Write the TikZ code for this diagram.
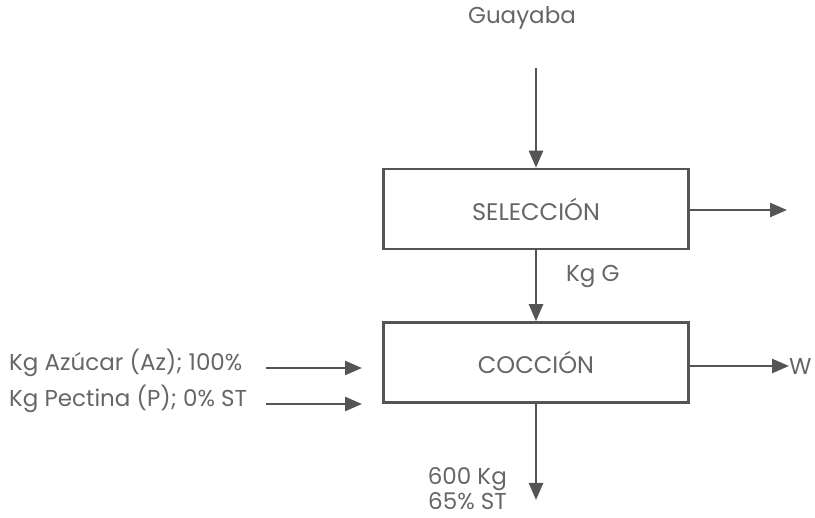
\documentclass[tikz,border=0pt]{standalone}
\usepackage{fontspec}
\setmainfont{Poppins}
\usetikzlibrary{arrows.meta}
\definecolor{ln}{HTML}{555555}
\definecolor{tx}{HTML}{666666}
\begin{document}
\begin{tikzpicture}[x=1pt,y=-1pt,
  box/.style={draw=ln,line width=2.5pt,minimum width=305pt,minimum height=80pt,inner sep=0pt,text=tx,font=\fontsize{24}{28}\selectfont},
  lbl/.style={text=tx,font=\fontsize{23}{25}\selectfont,inner sep=0pt},
  flow/.style={draw=ln,line width=2.5pt,-{Triangle[length=17pt,width=14pt]}}]
\useasboundingbox (0,0) rectangle (815,518);
\node[box] (sel) at (536,209) {SELECCIÓN};
\node[box] (coc) at (536,362.5) {COCCIÓN};
\node[lbl] (guay) at (522,18) {Guayaba};
\coordinate (gtop) at (536,68);
\draw[flow] (gtop) -- (sel.north);
\coordinate (selout) at (787,210);
\draw[flow] (sel.east |- selout) -- (selout);
\draw[flow] (sel.south) -- (coc.north);
\node[lbl,anchor=west] (kgg) at (566,277) {Kg G};
\node[lbl,anchor=west] (w) at (789,366) {W};
\draw[flow] (coc.east |- w) -- (w.west);
\coordinate (cbot) at (536,500);
\draw[flow] (coc.south) -- (cbot);
\node[lbl,anchor=base east] (prod) at (507,485) {600 Kg};
\node[lbl,anchor=base east] (prodst) at (507,510) {65\% ST};
\node[lbl,anchor=west] (az) at (9,363) {Kg Azúcar (Az); 100\%};
\node[lbl,anchor=west] (pec) at (9,399) {Kg Pectina (P); 0\% ST};
\coordinate (azend) at (362,368);
\coordinate (pecend) at (362,404);
\coordinate (azst) at (266,368);
\coordinate (pecst) at (266,404);
\draw[flow] (azst) -- (azend);
\draw[flow] (pecst) -- (pecend);
\end{tikzpicture}
\end{document}
